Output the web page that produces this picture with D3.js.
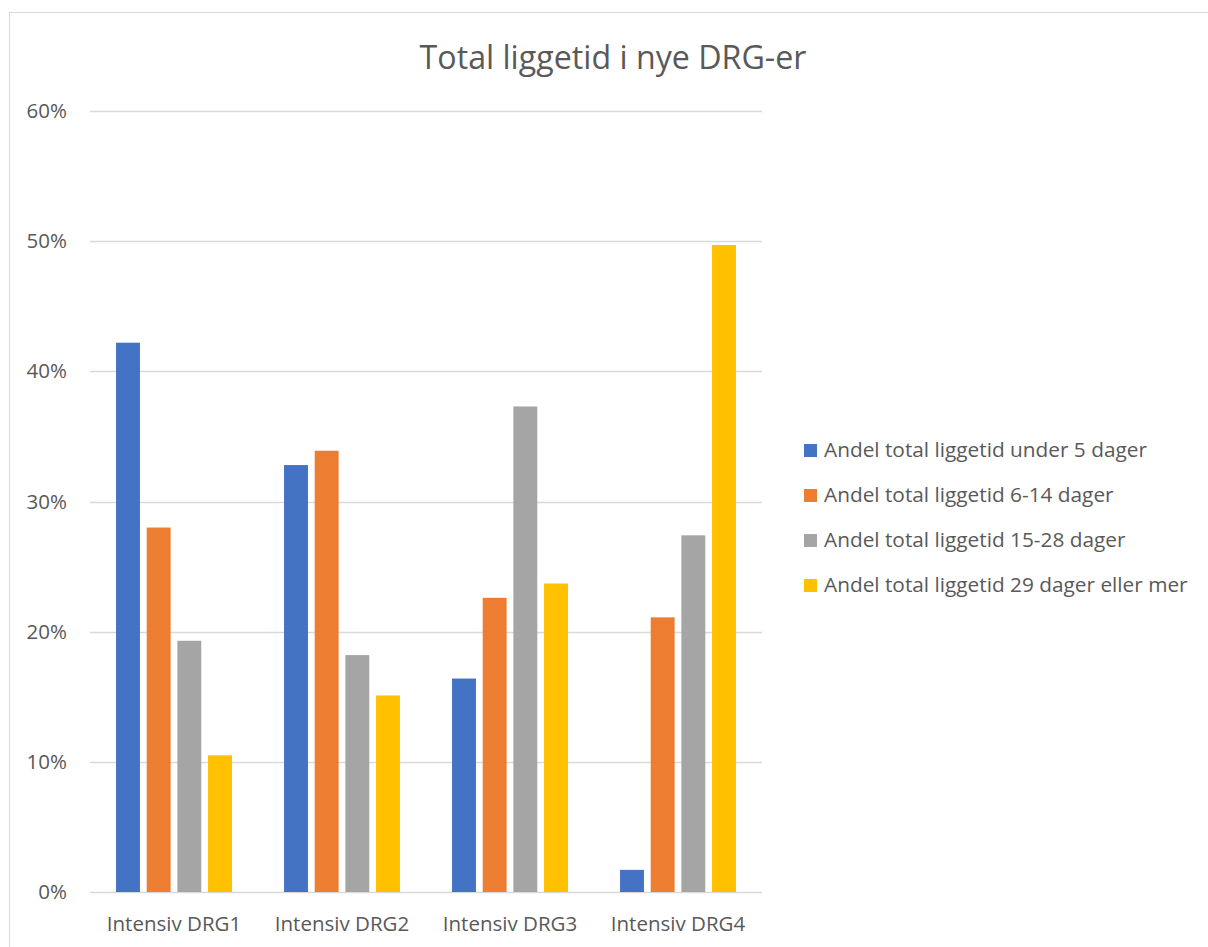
<!DOCTYPE html>
<html>
<head>
<meta charset="utf-8">
<script src="https://cdn.jsdelivr.net/npm/d3@7"></script>
<style>
  body { margin: 0; background: #fff; }
  svg text { font-family: "Open Sans", Lato, sans-serif; fill: #595959; }
</style>
</head>
<body>
<div id="chart"></div>
<script>
// chart data
const categories = ["Intensiv DRG1", "Intensiv DRG2", "Intensiv DRG3", "Intensiv DRG4"];
const seriesNames = [
  "Andel total liggetid under 5 dager",
  "Andel total liggetid 6-14 dager",
  "Andel total liggetid 15-28 dager",
  "Andel total liggetid 29 dager eller mer"
];
const under5 = [0.422, 0.328, 0.164, 0.017];
const d6to14 = [0.280, 0.339, 0.226, 0.211];
const d15to28 = [0.193, 0.182, 0.373, 0.274];
const d29plus = [0.105, 0.151, 0.237, 0.497];
const yTicks = [0, 0.1, 0.2, 0.3, 0.4, 0.5, 0.6];
const colors = ["#4472c4", "#ed7d31", "#a5a5a5", "#ffc000"];

const allSeries = [under5, d6to14, d15to28, d29plus];

const width = 1208, height = 947;
const margin = { top: 111, left: 90, right: 446, bottom: 55 };

const svg = d3.select("#chart").append("svg")
  .attr("width", width)
  .attr("height", height);

// outer frame
svg.append("rect")
  .attr("x", 9.5).attr("y", 12.5)
  .attr("width", 1220).attr("height", 960)
  .attr("fill", "none")
  .attr("stroke", "#d9d9d9");

// title
svg.append("text")
  .attr("x", 613).attr("y", 69)
  .attr("text-anchor", "middle")
  .style("font-size", "32.2px")
  .text("Total liggetid i nye DRG-er");

const x0 = d3.scaleBand()
  .domain(categories)
  .range([margin.left, width - margin.right])
  .paddingInner(0.31)
  .paddingOuter(0.155);

const x1 = d3.scaleBand()
  .domain(d3.range(seriesNames.length))
  .range([0, x0.bandwidth()])
  .paddingInner(0.22);

const y = d3.scaleLinear()
  .domain([0, 0.6])
  .range([height - margin.bottom, margin.top]);

// gridlines
svg.append("g")
  .selectAll("line")
  .data(yTicks)
  .enter()
  .append("line")
  .attr("x1", margin.left)
  .attr("x2", width - margin.right)
  .attr("y1", d => Math.round(y(d)) + 0.5)
  .attr("y2", d => Math.round(y(d)) + 0.5)
  .attr("stroke", "#d9d9d9")
  .attr("stroke-width", 1.3);

// y labels
svg.append("g")
  .selectAll("text")
  .data(yTicks)
  .enter()
  .append("text")
  .attr("x", 67)
  .attr("y", d => y(d) + 7)
  .attr("text-anchor", "end")
  .style("font-size", "20.5px")
  .text(d => d3.format(".0%")(d));

// bars
const groups = svg.append("g")
  .selectAll("g")
  .data(categories)
  .enter()
  .append("g")
  .attr("transform", d => "translate(" + x0(d) + ",0)");

groups.selectAll("rect")
  .data((d, i) => allSeries.map((s, k) => ({ k: k, v: s[i] })))
  .enter()
  .append("rect")
  .attr("x", d => x1(d.k))
  .attr("width", x1.bandwidth())
  .attr("y", d => y(d.v))
  .attr("height", d => y(0) - y(d.v))
  .attr("fill", d => colors[d.k]);

// x labels
svg.append("g")
  .selectAll("text")
  .data(categories)
  .enter()
  .append("text")
  .attr("x", d => x0(d) + x0.bandwidth() / 2)
  .attr("y", 931)
  .attr("text-anchor", "middle")
  .style("font-size", "20.5px")
  .text(d => d);

// legend
const legend = svg.append("g")
  .selectAll("g")
  .data(seriesNames)
  .enter()
  .append("g")
  .attr("transform", (d, i) => "translate(804," + (450 + i * 45) + ")");

legend.append("rect")
  .attr("x", 0).attr("y", -6)
  .attr("width", 13).attr("height", 13)
  .attr("fill", (d, i) => colors[i]);

legend.append("text")
  .attr("x", 20)
  .attr("y", 7)
  .style("font-size", "20.8px")
  .text(d => d);
</script>
</body>
</html>
